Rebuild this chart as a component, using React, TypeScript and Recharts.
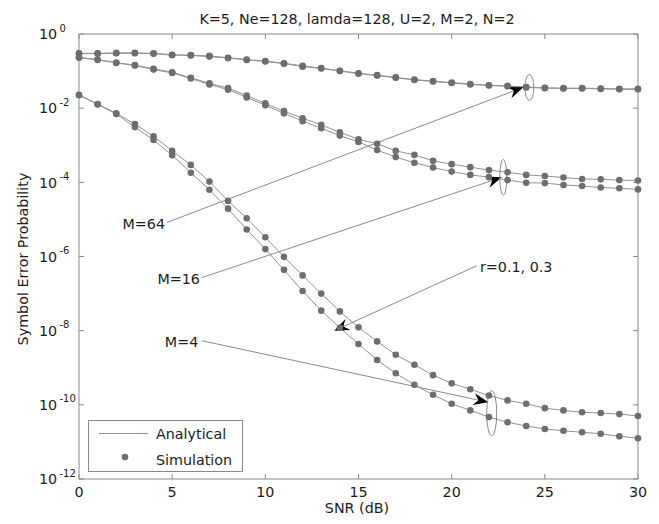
import React from 'react';
import {
  LineChart,
  Line,
  XAxis,
  YAxis,
  ReferenceLine,
  ReferenceDot,
  Legend,
  Customized,
} from 'recharts';

// SNR in dB (categories)
const snrDb = [0, 1, 2, 3, 4, 5, 6, 7, 8, 9, 10, 11, 12, 13, 14, 15, 16, 17, 18, 19, 20, 21, 22, 23, 24, 25, 26, 27, 28, 29, 30];

// log10 of the symbol error probability
const m64Upper = [-0.52, -0.52, -0.51, -0.51, -0.52, -0.56, -0.57, -0.59, -0.64, -0.69, -0.73, -0.79, -0.86, -0.92, -0.99, -1.06, -1.11, -1.17, -1.23, -1.27, -1.31, -1.35, -1.38, -1.40, -1.43, -1.45, -1.46, -1.46, -1.47, -1.48, -1.48];
const m64Lower = [-0.53, -0.53, -0.52, -0.52, -0.53, -0.57, -0.58, -0.61, -0.65, -0.70, -0.74, -0.80, -0.88, -0.93, -1.00, -1.07, -1.12, -1.18, -1.24, -1.28, -1.32, -1.36, -1.39, -1.41, -1.44, -1.46, -1.47, -1.47, -1.48, -1.49, -1.49];
const m16Upper = [-0.63, -0.69, -0.77, -0.84, -0.94, -1.03, -1.18, -1.33, -1.46, -1.66, -1.87, -2.08, -2.27, -2.45, -2.65, -2.84, -2.96, -3.15, -3.26, -3.42, -3.51, -3.59, -3.67, -3.73, -3.80, -3.83, -3.87, -3.91, -3.92, -3.94, -3.95];
const m16Lower = [-0.64, -0.70, -0.78, -0.85, -0.96, -1.05, -1.20, -1.36, -1.50, -1.71, -1.92, -2.14, -2.35, -2.54, -2.74, -2.91, -3.13, -3.32, -3.47, -3.60, -3.71, -3.80, -3.86, -3.94, -4.01, -4.02, -4.07, -4.10, -4.14, -4.16, -4.19];
const m4Upper = [-1.64, -1.89, -2.14, -2.43, -2.76, -3.15, -3.53, -3.98, -4.50, -4.97, -5.48, -6.01, -6.51, -7.00, -7.48, -7.91, -8.29, -8.65, -8.92, -9.20, -9.42, -9.58, -9.75, -9.88, -9.97, -10.09, -10.15, -10.20, -10.22, -10.25, -10.30];
const m4Lower = [-1.65, -1.90, -2.16, -2.51, -2.86, -3.27, -3.74, -4.20, -4.71, -5.27, -5.80, -6.36, -6.93, -7.46, -7.92, -8.36, -8.79, -9.15, -9.46, -9.73, -9.97, -10.15, -10.33, -10.47, -10.57, -10.65, -10.70, -10.74, -10.78, -10.85, -10.90];

// tick labels
const xTicks = [0, 5, 10, 15, 20, 25, 30];
const yTickExps = [0, -2, -4, -6, -8, -10, -12];

const titleText = 'K=5, Ne=128, lamda=128, U=2, M=2, N=2';
const xLabelText = 'SNR (dB)';
const yLabelText = 'Symbol Error Probability';
const legendLabels = ['Analytical', 'Simulation'];
const seriesKeys = ['m64u', 'm64l', 'm16u', 'm16l', 'm4u', 'm4l'];

const data = snrDb.map((snr, i) => ({
  snr,
  m64u: m64Upper[i],
  m64l: m64Lower[i],
  m16u: m16Upper[i],
  m16l: m16Lower[i],
  m4u: m4Upper[i],
  m4l: m4Lower[i],
}));

const FONT = '"DejaVu Sans", "Liberation Sans", Arial, sans-serif';
const FS = 14.3;
const AXIS = '#8a8a8a';
const LINE = '#929292';
const DOT = '#6e6e6e';
const TEXT = '#1c1c1c';
const ANN = '#8a8a8a';

const XTick = (props: any) => {
  const { x, payload } = props;
  return (
    <text x={x} y={497} textAnchor="middle" fontFamily={FONT} fontSize={FS} fill={TEXT}>
      {payload.value}
    </text>
  );
};

const YTick = (props: any) => {
  const { x, y, payload } = props;
  return (
    <g>
      <text x={x - 40} y={y + 5.3} textAnchor="start" fontFamily={FONT} fontSize={FS} fill={TEXT}>
        10
      </text>
      <text x={x - 19.5} y={y - 2.5} textAnchor="start" fontFamily={FONT} fontSize={10} fill={TEXT}>
        {String(payload.value)}
      </text>
    </g>
  );
};

const VTickShape = (p: any) => {
  const top = Math.min(p.y1, p.y2);
  const bot = Math.max(p.y1, p.y2);
  return (
    <g>
      <line x1={p.x1} x2={p.x1} y1={bot} y2={bot - 5} stroke={AXIS} strokeWidth={1} />
      <line x1={p.x1} x2={p.x1} y1={top} y2={top + 5} stroke={AXIS} strokeWidth={1} />
    </g>
  );
};

const HTickShape = (p: any) => {
  const left = Math.min(p.x1, p.x2);
  const right = Math.max(p.x1, p.x2);
  return (
    <g>
      <line x1={left} x2={left + 5} y1={p.y1} y2={p.y1} stroke={AXIS} strokeWidth={1} />
      <line x1={right} x2={right - 5} y1={p.y1} y2={p.y1} stroke={AXIS} strokeWidth={1} />
    </g>
  );
};

const ArrowShape = (p: any) => {
  const { x1, y1, x2, y2 } = p;
  const ang = Math.atan2(y2 - y1, x2 - x1);
  const L = 15;
  const HW = 6;
  const N = 10;
  const pt = (a: number, b: number) => [
    x2 + a * Math.cos(ang) - b * Math.sin(ang),
    y2 + a * Math.sin(ang) + b * Math.cos(ang),
  ];
  const w1 = pt(-L, HW);
  const nn = pt(-N, 0);
  const w2 = pt(-L, -HW);
  return (
    <g>
      <line x1={x1} y1={y1} x2={nn[0]} y2={nn[1]} stroke={ANN} strokeWidth={1} />
      <polygon points={`${x2},${y2} ${w1[0]},${w1[1]} ${nn[0]},${nn[1]} ${w2[0]},${w2[1]}`} fill="#000" />
    </g>
  );
};

const makeEllipse = (rx: number, ry: number) => (p: any) => (
  <ellipse cx={p.cx} cy={p.cy} rx={rx} ry={ry} fill="none" stroke={ANN} strokeWidth={1} />
);

const makeLabel = (text: string, anchor: 'start' | 'end') => (p: any) => (
  <text x={p.cx} y={p.cy} textAnchor={anchor} fontFamily={FONT} fontSize={FS} fill={TEXT}>
    {text}
  </text>
);

const TitleText = () => (
  <text x={357} y={23.7} textAnchor="middle" fontFamily={FONT} fontSize={FS} fill={TEXT}>
    {titleText}
  </text>
);

const YLabel = () => {
  const cx = 27.5;
  const cy = 259;
  return (
    <text
      x={cx}
      y={cy}
      transform={`rotate(-90, ${cx}, ${cy})`}
      textAnchor="middle"
      fontFamily={FONT}
      fontSize={FS}
      fill={TEXT}
    >
      {yLabelText}
    </text>
  );
};

const XLabel = () => (
  <text x={357} y={513} textAnchor="middle" fontFamily={FONT} fontSize={FS} fill={TEXT}>
    {xLabelText}
  </text>
);

const LegendBox = () => (
  <svg width={156} height={53} style={{ display: 'block', overflow: 'visible' }}>
    <rect x={0.5} y={0.5} width={154} height={51} fill="#fff" stroke={AXIS} strokeWidth={1} />
    <line x1={11} x2={60} y1={13.5} y2={13.5} stroke={LINE} strokeWidth={1} />
    <text x={68} y={18.5} fontFamily={FONT} fontSize={FS} fill={TEXT}>
      {legendLabels[0]}
    </text>
    <circle cx={37} cy={37} r={3.3} fill={DOT} />
    <text x={68} y={45} fontFamily={FONT} fontSize={FS} fill={TEXT}>
      {legendLabels[1]}
    </text>
  </svg>
);

export default function App() {
  return (
    <div style={{ position: 'absolute', left: 0, top: 0, width: 659, height: 524, background: '#fff' }}>
      <LineChart
        width={659}
        height={524}
        data={data}
        margin={{ top: 34, right: 21, bottom: 0, left: 0 }}
      >
        <XAxis
          dataKey="snr"
          type="number"
          domain={[0, 30]}
          ticks={xTicks}
          height={45}
          tickSize={0}
          tickMargin={0}
          tickLine={false}
          axisLine={{ stroke: AXIS }}
          tick={XTick}
          label={{ content: XLabel }}
        />
        <YAxis
          type="number"
          domain={[-12, 0]}
          ticks={yTickExps}
          width={79}
          tickSize={0}
          tickMargin={0}
          tickLine={false}
          axisLine={{ stroke: AXIS }}
          tick={YTick}
          label={{ content: YLabel }}
        />
        <ReferenceLine y={0} stroke={AXIS} strokeWidth={1} />
        <ReferenceLine x={30} stroke={AXIS} strokeWidth={1} />
        {xTicks.map((v) => (
          <ReferenceLine key={'xt' + v} x={v} shape={VTickShape} />
        ))}
        {yTickExps.map((v) => (
          <ReferenceLine key={'yt' + v} y={v} shape={HTickShape} />
        ))}
        {seriesKeys.map((k) => (
          <Line
            key={k}
            dataKey={k}
            type="linear"
            stroke={LINE}
            strokeWidth={1}
            dot={{ r: 3.3, fill: DOT, stroke: DOT, strokeWidth: 0 }}
            activeDot={false}
            isAnimationActive={false}
          />
        ))}
        {/* annotations */}
        <ReferenceDot x={24.17} y={-1.44} r={0} shape={makeEllipse(4.5, 13)} />
        <ReferenceDot x={22.77} y={-3.865} r={0} shape={makeEllipse(3.5, 18)} />
        <ReferenceDot x={22.15} y={-10.23} r={0} shape={makeEllipse(5, 22.5)} />
        <ReferenceLine segment={[{ x: 4.72, y: -5.08 }, { x: 23.845, y: -1.437 }]} shape={ArrowShape} />
        <ReferenceLine segment={[{ x: 6.58, y: -6.57 }, { x: 22.69, y: -3.865 }]} shape={ArrowShape} />
        <ReferenceLine segment={[{ x: 6.585, y: -8.27 }, { x: 21.97, y: -9.93 }]} shape={ArrowShape} />
        <ReferenceLine segment={[{ x: 21.34, y: -6.25 }, { x: 13.7, y: -8.0 }]} shape={ArrowShape} />
        <ReferenceDot x={4.615} y={-5.267} r={0} shape={makeLabel('M=64', 'end')} />
        <ReferenceDot x={6.49} y={-6.74} r={0} shape={makeLabel('M=16', 'end')} />
        <ReferenceDot x={6.4} y={-8.43} r={0} shape={makeLabel('M=4', 'end')} />
        <ReferenceDot x={21.52} y={-6.41} r={0} shape={makeLabel('r=0.1, 0.3', 'start')} />
        <Customized component={TitleText} />
        <Legend
          layout="vertical"
          align="center"
          verticalAlign="middle"
          content={LegendBox}
          wrapperStyle={{ position: 'absolute', left: 88, top: 420, width: 156, height: 53 }}
        />
      </LineChart>
    </div>
  );
}
